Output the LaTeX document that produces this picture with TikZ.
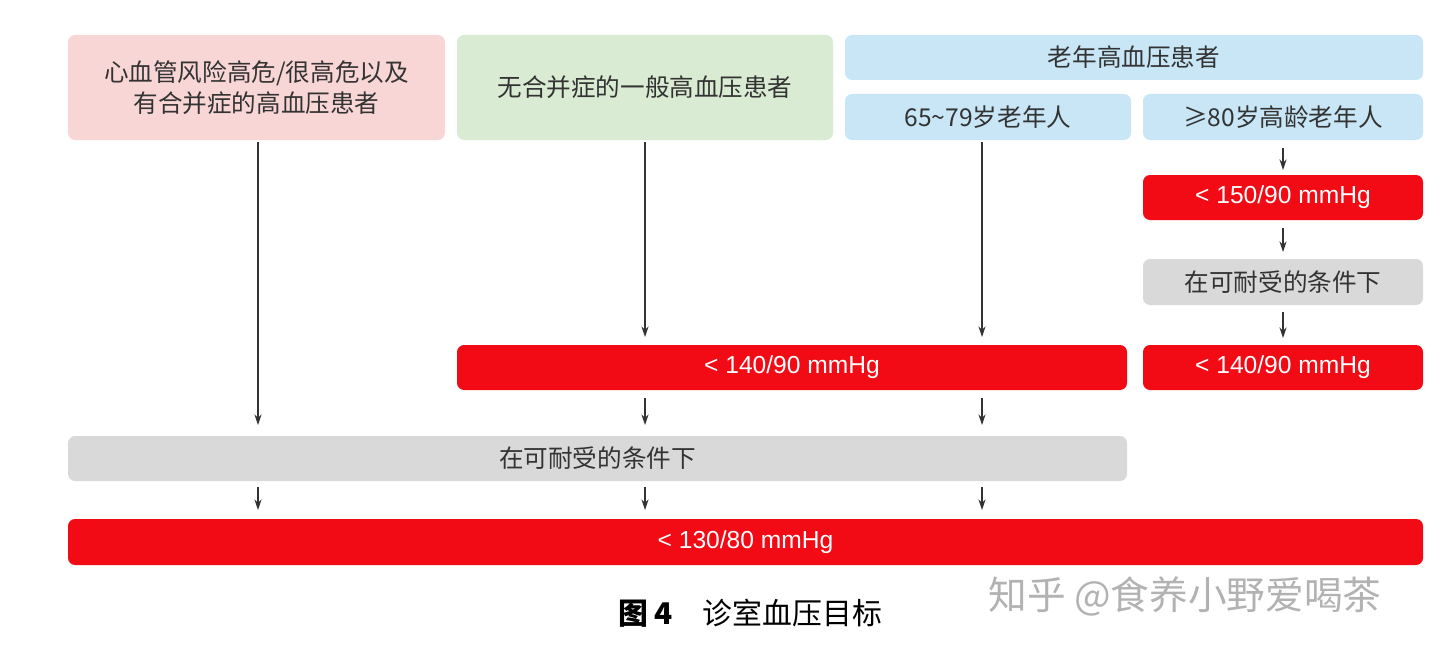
\documentclass[tikz,border=0pt]{standalone}
\usepackage{fontspec}
\setmainfont{Liberation Sans}
\newfontfamily\cjk{Noto Sans CJK SC}
\usetikzlibrary{arrows.meta}
\definecolor{pinkc}{HTML}{F9D6D6}
\definecolor{greenc}{HTML}{DAEBD3}
\definecolor{bluec}{HTML}{C8E6F6}
\definecolor{redc}{HTML}{F20A14}
\definecolor{grayc}{HTML}{D9D9D9}
\definecolor{txt}{HTML}{333333}
\begin{document}
\begin{tikzpicture}[x=0.02cm,y=-0.02cm,
 bx/.style={draw=none,rounded corners=4pt,inner sep=0pt,text=txt,font=\cjk\fontsize{14}{18}\selectfont,align=center},
 rd/.style={bx,fill=redc,text=white,font=\fontsize{14}{18}\selectfont},
 ar/.style={-{Stealth[length=6pt,width=4pt]},line width=0.6pt,txt}]
\useasboundingbox (0,0) rectangle (1440,652);
\newcommand{\bxat}[6]{\node[#1,minimum width=(#4-#2)*0.02cm,minimum height=(#5-#3)*0.02cm] (#6) at ({(#2+#4)/2},{(#3+#5)/2})}
\bxat{bx,fill=pinkc}{68}{35}{445}{140}{pink}{心血管风险高危/很高危以及\\有合并症的高血压患者};
\bxat{bx,fill=greenc}{457}{35}{833}{140}{green}{无合并症的一般高血压患者};
\bxat{bx,fill=bluec}{845}{35}{1423}{80}{old}{老年高血压患者};
\bxat{bx,fill=bluec}{845}{94}{1131}{140}{old1}{65\textasciitilde79岁老年人};
\bxat{bx,fill=bluec}{1143}{94}{1423}{140}{old2}{≥80岁高龄老年人};
\bxat{rd}{1143}{175}{1423}{220}{r150}{< 150/90 mmHg};
\bxat{bx,fill=grayc}{1143}{259}{1423}{305}{g1}{在可耐受的条件下};
\bxat{rd}{1143}{345}{1423}{390}{r140b}{< 140/90 mmHg};
\bxat{rd}{457}{345}{1127}{390}{r140}{< 140/90 mmHg};
\bxat{bx,fill=grayc}{68}{436}{1127}{481}{g2}{在可耐受的条件下};
\bxat{rd}{68}{519}{1423}{565}{r130}{< 130/80 mmHg};
\foreach \n/\x/\y in {a1/258/142,a2/258/425,b1/645/142,b2/645/337,c1/982/142,c2/982/337,
 d1/645/398,d2/645/425,e1/982/398,e2/982/425,
 f1/258/487,f2/258/510,h1/645/487,h2/645/510,i1/982/487,i2/982/510,
 j1/1283/148,j2/1283/170,k1/1283/228,k2/1283/252,l1/1283/312,l2/1283/338}
 {\coordinate (\n) at (\x,\y);}
\foreach \s in {a,b,c,d,e,f,h,i,j,k,l} \draw[ar] (\s1) -- (\s2);
\node[font=\cjk\fontsize{17}{20}\selectfont] (cap) at (750,613) {\textbf{图 4}\quad 诊室血压目标};
\node[font=\cjk\fontsize{22}{26}\selectfont,text=gray!60] (wm) at (1185,596) {知乎 @食养小野爱喝茶};
\end{tikzpicture}
\end{document}
